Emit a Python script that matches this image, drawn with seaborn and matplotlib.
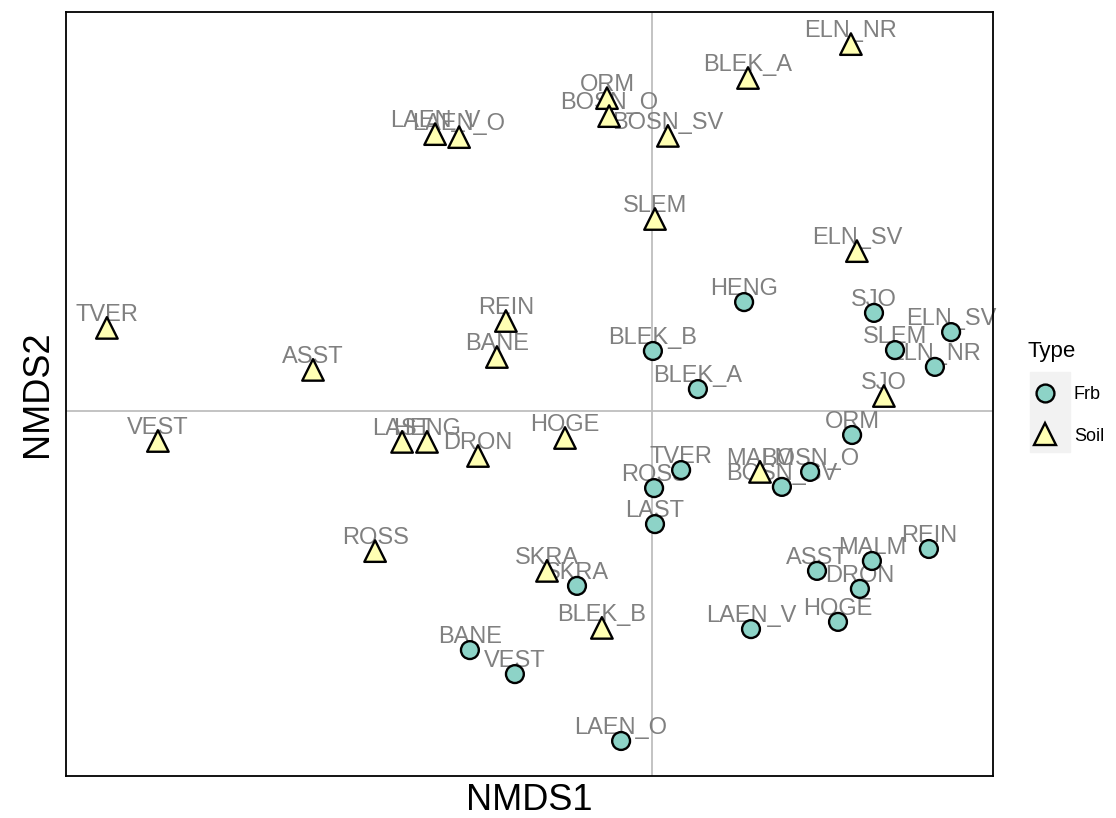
import pandas as pd
import matplotlib.pyplot as plt
import seaborn as sns
from matplotlib.patches import Rectangle

# NMDS 좌표 (Frb / Soil)
frb_site = ['HENG', 'SJO', 'ELN_SV', 'SLEM', 'ELN_NR', 'BLEK_B', 'BLEK_A', 'ORM',
            'TVER', 'BOSN_O', 'BOSN_SV', 'ROSS', 'LAST', 'REIN', 'MALM', 'ASST',
            'DRON', 'HOGE', 'LAEN_V', 'SKRA', 'BANE', 'VEST', 'LAEN_O']
frb_x = [0.307, 0.740, 0.997, 0.810, 0.943, 0.003, 0.153, 0.667,
         0.097, 0.527, 0.433, 0.007, 0.010, 0.923, 0.733, 0.550,
         0.693, 0.620, 0.330, -0.250, -0.607, -0.457, -0.103]
frb_y = [0.363, 0.327, 0.263, 0.203, 0.147, 0.200, 0.073, -0.080,
         -0.197, -0.203, -0.253, -0.257, -0.377, -0.460, -0.500, -0.533,
         -0.593, -0.703, -0.727, -0.583, -0.797, -0.877, -1.100]

soil_site = ['ELN_NR', 'BLEK_A', 'ORM', 'BOSN_O', 'LAEN_V', 'LAEN_O', 'BOSN_SV',
             'SLEM', 'ELN_SV', 'TVER', 'REIN', 'BANE', 'ASST', 'SJO', 'VEST',
             'LAST', 'HENG', 'DRON', 'HOGE', 'MALM', 'ROSS', 'SKRA', 'BLEK_B']
soil_x = [0.663, 0.320, -0.150, -0.143, -0.723, -0.643, 0.053,
          0.010, 0.683, -1.817, -0.487, -0.517, -1.130, 0.773, -1.647,
          -0.833, -0.750, -0.580, -0.290, 0.360, -0.923, -0.350, -0.167]
soil_y = [1.223, 1.110, 1.043, 0.983, 0.923, 0.913, 0.917,
          0.640, 0.533, 0.277, 0.300, 0.180, 0.137, 0.050, -0.100,
          -0.103, -0.103, -0.150, -0.090, -0.203, -0.467, -0.533, -0.723]

df = pd.concat([
    pd.DataFrame({'site': frb_site, 'NMDS1': frb_x, 'NMDS2': frb_y, 'Type': 'Frb'}),
    pd.DataFrame({'site': soil_site, 'NMDS1': soil_x, 'NMDS2': soil_y, 'Type': 'Soil'}),
], ignore_index=True)

sns.set_style('white')
plt.rcParams['font.family'] = ['Liberation Sans', 'DejaVu Sans']

fig = plt.figure(figsize=(11.16, 8.18), dpi=100)
ax = fig.add_axes([66/1116, 1 - 776/818, (993 - 66)/1116, (776 - 12)/818])

ax.axvline(0, color='#bebebe', lw=1.3, zorder=1)
ax.axhline(0, color='#bebebe', lw=1.3, zorder=1)

# 라벨 (점 뒤에)
for _, r in df.iterrows():
    ax.annotate(r['site'], (r['NMDS1'], r['NMDS2']), xytext=(0, 5),
                textcoords='offset points', ha='center', va='baseline',
                fontsize=17, color='#808080', zorder=2)

sns.scatterplot(data=df, x='NMDS1', y='NMDS2', hue='Type', style='Type', size='Type',
                palette={'Frb': '#8DD3C7', 'Soil': '#FFFFB3'},
                markers={'Frb': 'o', 'Soil': '^'},
                sizes={'Frb': 165, 'Soil': 240},
                edgecolor='black', linewidth=1.7, ax=ax, zorder=3)

ax.set_xlim((66 - 652)/300, (993 - 652)/300)
ax.set_ylim((411 - 776)/300, (411 - 12)/300)
ax.set_xticks([])
ax.set_yticks([])
ax.set_xlabel('NMDS1', fontsize=26, labelpad=5, color='black')
ax.set_ylabel('NMDS2', fontsize=26, labelpad=8, color='black')
for s in ax.spines.values():
    s.set_color('black')
    s.set_linewidth(1.3)

leg = ax.legend(title='Type', loc='upper left', bbox_to_anchor=(1027/1116, 1 - 341/818),
                bbox_transform=fig.transFigure, frameon=False, fontsize=13,
                title_fontsize=16, handletextpad=0.6, labelspacing=1.35,
                borderaxespad=0, borderpad=0)
leg._legend_box.align = 'left'
leg.get_title().set_color('black')
for t in leg.get_texts():
    t.set_color('black')
fig.patches.append(Rectangle((1030/1116, 1 - 452/818), 40/1116, 80/818,
                             transform=fig.transFigure, color='#f2f2f2', zorder=-1))

plt.savefig('out.png', dpi=100)
